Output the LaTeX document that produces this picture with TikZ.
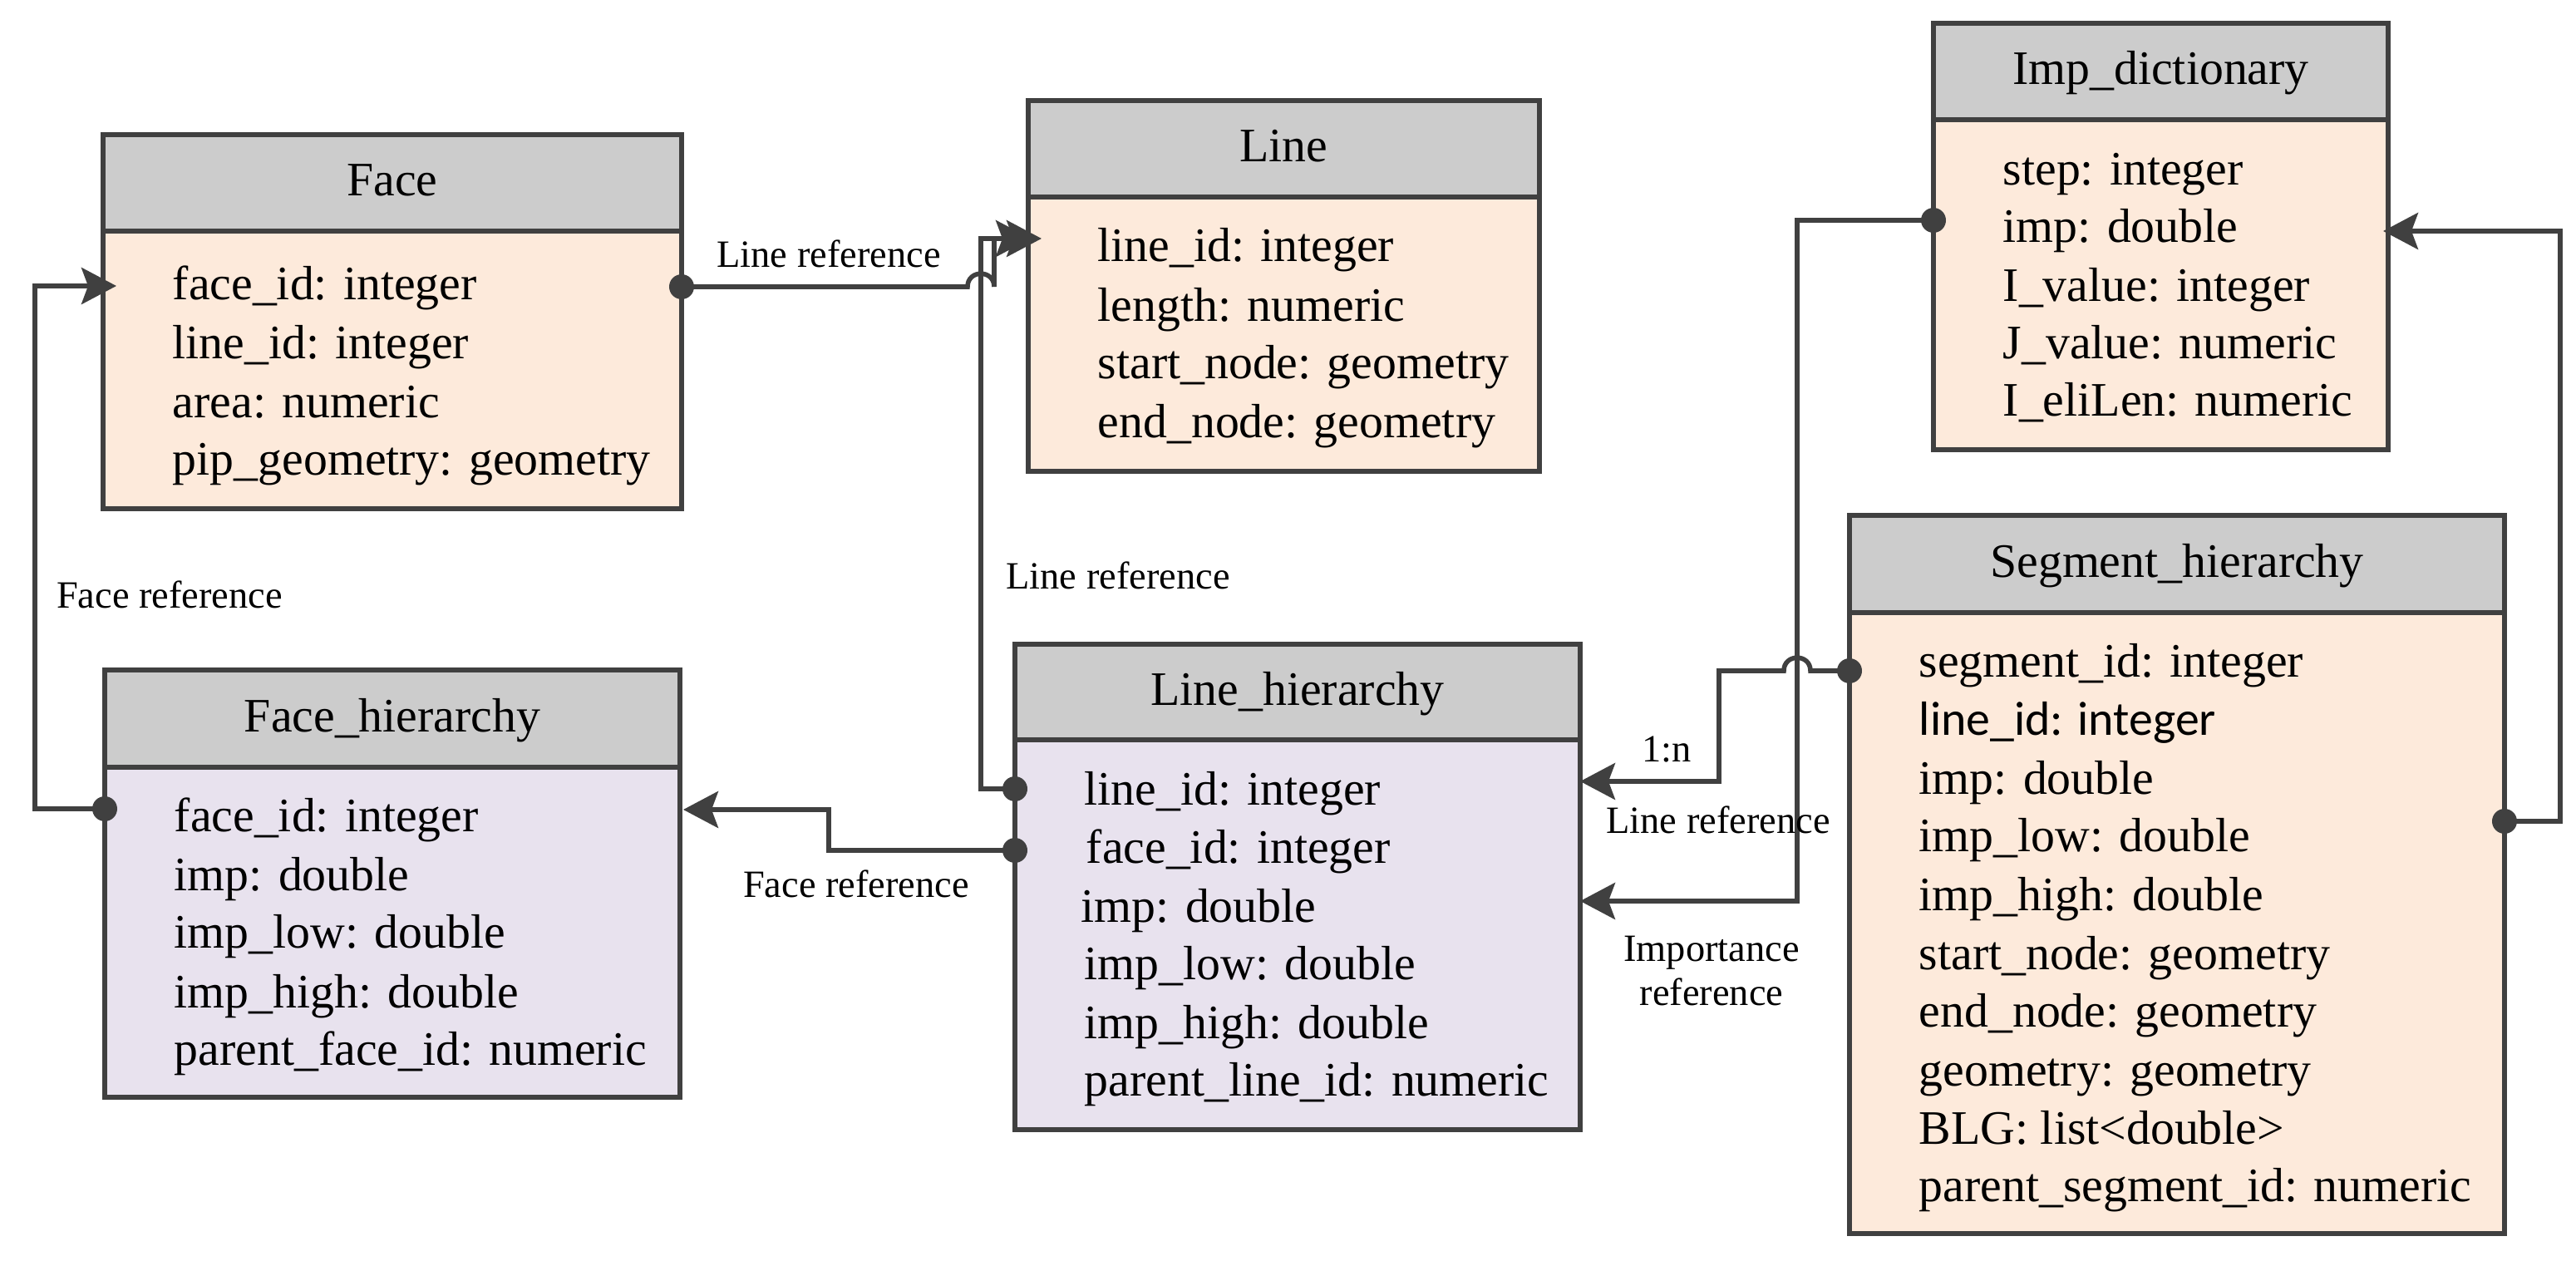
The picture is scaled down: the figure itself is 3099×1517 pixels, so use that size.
\documentclass[tikz,border=0pt]{standalone}
\usepackage{fontspec}
\setmainfont{Liberation Serif}
\newfontfamily\sansalt{Carlito}
\usetikzlibrary{arrows.meta,calc}
\definecolor{hdrgray}{HTML}{CCCCCC}
\definecolor{peach}{HTML}{FDEADB}
\definecolor{lav}{HTML}{E8E2EE}
\definecolor{linec}{HTML}{404040}
\newcommand\tblfont{\fontsize{14.45pt}{17.5pt}\selectfont}
\newcommand\lblfont{\fontsize{11.6pt}{13.25pt}\selectfont}
\begin{document}
\begin{tikzpicture}[x=0.25pt,y=-0.25pt,
  hdr/.style={draw=linec, line width=1.4pt, fill=hdrgray, inner sep=0pt, outer sep=0pt, font=\tblfont, text height=1em, text depth=0.2em},
  bodyp/.style={draw=linec, line width=1.4pt, fill=peach, inner sep=0pt, outer sep=0pt},
  bodyl/.style={draw=linec, line width=1.4pt, fill=lav, inner sep=0pt, outer sep=0pt},
  row/.style={anchor=west, inner sep=0pt, font=\tblfont, text height=0.7em, text depth=0.25em, yshift=-2.5pt},
  lbl/.style={inner sep=0pt, font=\lblfont, align=center},
  conn/.style={draw=linec, line width=1.4pt, line join=miter},
  arr/.style={-{Stealth[length=10.5pt,width=11pt,inset=2pt]}},
  dot/.style={fill=linec}
]
\useasboundingbox (0,0) rectangle (3099,1517);

% Face
\node[bodyp, minimum width=174pt, minimum height=83.5pt] (faceB) at (472,445) {};
\node[hdr, minimum width=174pt, minimum height=29pt] (faceH) at (472,220) {Face};
\node[row] (face1) at (207,342) {face\_id: integer};
\node[row] (face2) at (207,413) {line\_id: integer};
\node[row] (face3) at (207,484) {area: numeric};
\node[row] (face4) at (207,553) {pip\_geometry: geometry};

% Line
\node[bodyp, minimum width=153.75pt, minimum height=82.5pt] (lineB) at (1544.5,402) {};
\node[hdr, minimum width=153.75pt, minimum height=29pt] (lineH) at (1544.5,179) {Line};
\node[row] (line1) at (1320,296) {line\_id: integer};
\node[row] (line2) at (1320,368) {length: numeric};
\node[row] (line3) at (1320,437) {start\_node: geometry};
\node[row] (line4) at (1320,508) {end\_node: geometry};

% Imp_dictionary
\node[bodyp, minimum width=136.75pt, minimum height=99.25pt] (impB) at (2599.5,342.5) {};
\node[hdr, minimum width=136.75pt, minimum height=29pt] (impH) at (2599.5,86) {Imp\_dictionary};
\node[row] (imp1) at (2409,204) {step: integer};
\node[row] (imp2) at (2409,273) {imp: double};
\node[row] (imp3) at (2409,344) {I\_value: integer};
\node[row] (imp4) at (2409,413) {J\_value: numeric};
\node[row] (imp5) at (2409,482) {I\_eliLen: numeric};

% Face_hierarchy
\node[bodyl, minimum width=173pt, minimum height=99.25pt] (fhB) at (472,1121.5) {};
\node[hdr, minimum width=173pt, minimum height=29.25pt] (fhH) at (472,864.5) {Face\_hierarchy};
\node[row] (fh1) at (209,982) {face\_id: integer};
\node[row] (fh2) at (209,1053) {imp: double};
\node[row] (fh3) at (209,1122) {imp\_low: double};
\node[row] (fh4) at (209,1194) {imp\_high: double};
\node[row] (fh5) at (209,1263) {parent\_face\_id: numeric};

% Line_hierarchy
\node[bodyl, minimum width=170pt, minimum height=117.25pt] (lhB) at (1561,1124.5) {};
\node[hdr, minimum width=170pt, minimum height=28.75pt] (lhH) at (1561,832.5) {Line\_hierarchy};
\node[row] (lh1) at (1304,950) {line\_id: integer};
\node[row] (lh2) at (1306,1020) {face\_id: integer};
\node[row] (lh3) at (1300,1091) {imp: double};
\node[row] (lh4) at (1304,1160) {imp\_low: double};
\node[row] (lh5) at (1304,1231) {imp\_high: double};
\node[row] (lh6) at (1304,1300) {parent\_line\_id: numeric};

% Segment_hierarchy
\node[bodyp, minimum width=197pt, minimum height=186.75pt] (segB) at (2619,1110.5) {};
\node[hdr, minimum width=197pt, minimum height=29.25pt] (segH) at (2619,678.5) {Segment\_hierarchy};
\node[row] (seg1) at (2308,796) {segment\_id: integer};
\node[row] (seg2) at (2308,866) {\sansalt line\_id: integer};
\node[row] (seg3) at (2308,937) {imp: double};
\node[row] (seg4) at (2308,1006) {imp\_low: double};
\node[row] (seg5) at (2308,1077) {imp\_high: double};
\node[row] (seg6) at (2308,1148) {start\_node: geometry};
\node[row] (seg7) at (2308,1217) {end\_node: geometry};
\node[row] (seg8) at (2308,1288) {geometry: geometry};
\node[row] (seg9) at (2308,1358) {BLG: list<double>};
\node[row] (seg10) at (2308,1427) {parent\_segment\_id: numeric};

% Connectors
\draw[conn,arr] (fhB.west |- 0,973) -- (42,973) -- (42,344) -- ([xshift=4pt]faceB.west |- 0,344);
\fill[dot] (fhB.west |- 0,973) circle (3.75pt);

\draw[conn,arr] (faceB.east |- 0,345) -- (1164,345) .. controls (1164,324) and (1196,324) .. (1196,345) -- (1196,287) -- ([xshift=0.75pt]lineB.west |- 0,287);
\fill[dot] (faceB.east |- 0,345) circle (3.75pt);

\draw[conn,arr] (lhB.west |- 0,949) -- (1180,949) -- (1180,287) -- ([xshift=4pt]lineB.west |- 0,287);
\fill[dot] (lhB.west |- 0,949) circle (3.75pt);

\draw[conn,arr] (lhB.west |- 0,1023) -- (997,1023) -- (997,974) -- ([xshift=1pt]fhB.east |- 0,974);
\fill[dot] (lhB.west |- 0,1023) circle (3.75pt);

\draw[conn,arr] (segB.west |- 0,807) -- (2178,807) .. controls (2178,786) and (2146,786) .. (2146,807) -- (2068,807) -- (2068,940) -- (lhB.east |- 0,940);
\fill[dot] (segB.west |- 0,807) circle (3.75pt);

\draw[conn,arr] (impB.west |- 0,265) -- (2162,265) -- (2162,1084) -- (lhB.east |- 0,1084);
\fill[dot] (impB.west |- 0,265) circle (3.75pt);

\draw[conn,arr] (segB.east |- 0,988) -- (3080,988) -- (3080,278) -- ([xshift=-1.5pt]impB.east |- 0,278);
\fill[dot] (segB.east |- 0,988) circle (3.75pt);

% Labels
\node[lbl] (l1) at (997,305) {Line reference};
\node[lbl] (l2) at (1345,692) {Line reference};
\node[lbl] (l3) at (204,715) {Face reference};
\node[lbl] (l4) at (1030,1063) {Face reference};
\node[lbl] (l5) at (2005,902) {1:n};
\node[lbl] (l6) at (2067,986) {Line reference};
\node[lbl] (l7) at (2059,1168) {Importance\\reference};
\end{tikzpicture}
\end{document}
